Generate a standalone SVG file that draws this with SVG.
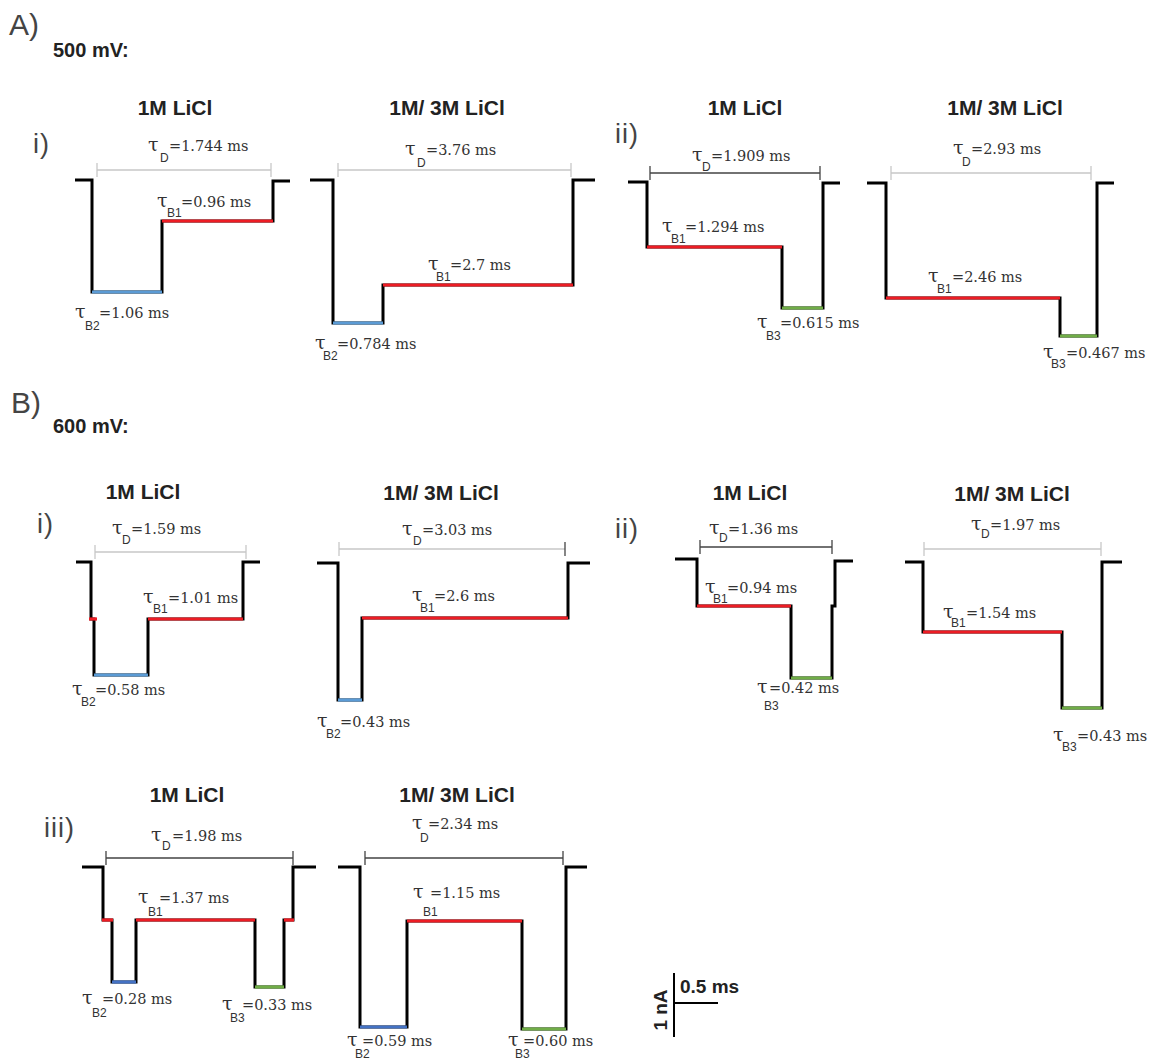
<svg xmlns="http://www.w3.org/2000/svg" width="1154" height="1059" viewBox="0 0 1154 1059">
<style>
.tr{fill:none;stroke:#000;stroke-width:3;stroke-linejoin:miter}
.lv{fill:none;stroke-width:3.2}
.r{stroke:#ed1c24}.b{stroke:#5b9bd5}.bd{stroke:#4472c4}.g{stroke:#70ad47}
.brl{fill:none;stroke:#c8c8c8;stroke-width:1.3}
.brd{fill:none;stroke:#444;stroke-width:1.3}
.lb{font-family:"DejaVu Serif",serif;font-size:14.5px;fill:#333}
.t{font-size:19px}
.sb{font-family:"Liberation Sans",Arial,sans-serif;font-size:12px;fill:#333}
.tt{font-family:"Liberation Sans",Arial,sans-serif;font-weight:bold;font-size:21px;fill:#222;text-anchor:middle}
.hd{font-family:"Liberation Sans",Arial,sans-serif;font-weight:bold;font-size:20px;fill:#222}
.sec{font-family:"Liberation Sans",Arial,sans-serif;font-size:30px;fill:#444}
.rn{font-family:"Liberation Sans",Arial,sans-serif;font-size:27px;fill:#444;letter-spacing:1px}
.sc{font-family:"Liberation Sans",Arial,sans-serif;font-weight:bold;font-size:19px;fill:#222}
</style>
<rect width="1154" height="1059" fill="#fff"/>

<g id="headings">
<text class="sec" x="9" y="35">A)</text>
<text class="hd" x="53" y="57">500 mV:</text>
<text class="sec" x="11" y="413">B)</text>
<text class="hd" x="53" y="433">600 mV:</text>
<text class="rn" x="33" y="153">i)</text>
<text class="rn" x="615" y="143">ii)</text>
<text class="rn" x="37" y="533">i)</text>
<text class="rn" x="615" y="538">ii)</text>
<text class="rn" x="44" y="837">iii)</text>
</g>

<g id="A-i-1M">
<text class="tt" x="175" y="115">1M LiCl</text>
<path class="brl" d="M97,170 H271 M97,163 V177 M271,163 V177"/>
<path class="tr" d="M75,180 H92 V292 H162 V221 H273 V181 H290"/>
<path class="lv b" d="M92,292 H162"/>
<path class="lv r" d="M162,221 H273"/>
<text class="lb" x="148" y="151"><tspan class="t">τ</tspan><tspan class="sb" x="160" y="162">D</tspan><tspan x="169" y="151">=1.744 ms</tspan></text>
<text class="lb" x="157" y="207"><tspan class="t">τ</tspan><tspan class="sb" x="167" y="217">B1</tspan><tspan x="181" y="207">=0.96 ms</tspan></text>
<text class="lb" x="75" y="318"><tspan class="t">τ</tspan><tspan class="sb" x="85" y="330">B2</tspan><tspan x="99" y="318">=1.06 ms</tspan></text>
</g>

<g id="A-i-3M">
<text class="tt" x="447" y="115">1M/ 3M LiCl</text>
<path class="brl" d="M338,170 H571 M338,163 V177 M571,163 V177"/>
<path class="tr" d="M310,180 H333 V323 H383 V285 H573 V180 H595"/>
<path class="lv b" d="M333,323 H383"/>
<path class="lv r" d="M383,285 H573"/>
<text class="lb" x="405" y="155"><tspan class="t">τ</tspan><tspan class="sb" x="417" y="167">D</tspan><tspan x="426" y="155">=3.76 ms</tspan></text>
<text class="lb" x="428" y="270"><tspan class="t">τ</tspan><tspan class="sb" x="436" y="281">B1</tspan><tspan x="450" y="270">=2.7 ms</tspan></text>
<text class="lb" x="315" y="349"><tspan class="t">τ</tspan><tspan class="sb" x="323" y="360">B2</tspan><tspan x="337" y="349">=0.784 ms</tspan></text>
</g>

<g id="A-ii-1M">
<text class="tt" x="745" y="115">1M LiCl</text>
<path class="brd" d="M650,173 H820 M650,166 V180 M820,166 V180"/>
<path class="tr" d="M628,182 H647 V247 H782 V308 H823 V183 H840"/>
<path class="lv r" d="M647,247 H782"/>
<path class="lv g" d="M782,308 H823"/>
<text class="lb" x="692" y="161"><tspan class="t">τ</tspan><tspan class="sb" x="702" y="171">D</tspan><tspan x="711" y="161">=1.909 ms</tspan></text>
<text class="lb" x="662" y="232"><tspan class="t">τ</tspan><tspan class="sb" x="671" y="243">B1</tspan><tspan x="685" y="232">=1.294 ms</tspan></text>
<text class="lb" x="757" y="328"><tspan class="t">τ</tspan><tspan class="sb" x="766" y="340">B3</tspan><tspan x="780" y="328">=0.615 ms</tspan></text>
</g>

<g id="A-ii-3M">
<text class="tt" x="1005" y="115">1M/ 3M LiCl</text>
<path class="brl" d="M891,173 H1091 M891,166 V180 M1091,166 V180"/>
<path class="tr" d="M867,183 H886 V298 H1060 V336 H1097 V183 H1114"/>
<path class="lv r" d="M886,298 H1060"/>
<path class="lv g" d="M1060,336 H1097"/>
<text class="lb" x="953" y="154"><tspan class="t">τ</tspan><tspan class="sb" x="962" y="166">D</tspan><tspan x="971" y="154">=2.93 ms</tspan></text>
<text class="lb" x="928" y="282"><tspan class="t">τ</tspan><tspan class="sb" x="937" y="293">B1</tspan><tspan x="952" y="282">=2.46 ms</tspan></text>
<text class="lb" x="1043" y="358"><tspan class="t">τ</tspan><tspan class="sb" x="1051" y="368">B3</tspan><tspan x="1066" y="358">=0.467 ms</tspan></text>
</g>

<g id="B-i-1M">
<text class="tt" x="143" y="499">1M LiCl</text>
<path class="brl" d="M95,552 H246 M95,545 V559 M246,545 V559"/>
<path class="tr" d="M76,562 H91 V619 H94 V675 H148 V619 H243 V562 H260"/>
<path class="lv r" d="M89,619 H97"/>
<path class="lv b" d="M94,675 H148"/>
<path class="lv r" d="M148,619 H243"/>
<text class="lb" x="112" y="534"><tspan class="t">τ</tspan><tspan class="sb" x="122" y="544">D</tspan><tspan x="131" y="534">=1.59 ms</tspan></text>
<text class="lb" x="143" y="603"><tspan class="t">τ</tspan><tspan class="sb" x="153" y="613">B1</tspan><tspan x="168" y="603">=1.01 ms</tspan></text>
<text class="lb" x="72" y="695"><tspan class="t">τ</tspan><tspan class="sb" x="81" y="706">B2</tspan><tspan x="95" y="695">=0.58 ms</tspan></text>
</g>

<g id="B-i-3M">
<text class="tt" x="441" y="500">1M/ 3M LiCl</text>
<path class="brl" d="M339,549 H565 M339,542 V556"/>
<path class="brd" d="M565,542 V556"/>
<path class="tr" d="M317,563 H338 V700 H362 V618 H568 V563 H590"/>
<path class="lv b" d="M338,700 H362"/>
<path class="lv r" d="M362,618 H568"/>
<text class="lb" x="402" y="535"><tspan class="t">τ</tspan><tspan class="sb" x="413" y="545">D</tspan><tspan x="422" y="535">=3.03 ms</tspan></text>
<text class="lb" x="412" y="601"><tspan class="t">τ</tspan><tspan class="sb" x="420" y="612">B1</tspan><tspan x="434" y="601">=2.6 ms</tspan></text>
<text class="lb" x="317" y="727"><tspan class="t">τ</tspan><tspan class="sb" x="326" y="738">B2</tspan><tspan x="340" y="727">=0.43 ms</tspan></text>
</g>

<g id="B-ii-1M">
<text class="tt" x="750" y="500">1M LiCl</text>
<path class="brd" d="M700,547 H832 M700,540 V554 M832,540 V554"/>
<path class="tr" d="M675,559 H697 V606 H791 V678 H832 V606 H835 V561 H853"/>
<path class="lv r" d="M697,606 H791"/>
<path class="lv g" d="M791,678 H832"/>
<text class="lb" x="709" y="534"><tspan class="t">τ</tspan><tspan class="sb" x="719" y="542">D</tspan><tspan x="728" y="534">=1.36 ms</tspan></text>
<text class="lb" x="705" y="593"><tspan class="t">τ</tspan><tspan class="sb" x="713" y="603">B1</tspan><tspan x="727" y="593">=0.94 ms</tspan></text>
<text class="lb" x="757" y="693"><tspan class="t">τ</tspan><tspan class="sb" x="764" y="710">B3</tspan><tspan x="769" y="693">=0.42 ms</tspan></text>
</g>

<g id="B-ii-3M">
<text class="tt" x="1012" y="501">1M/ 3M LiCl</text>
<path class="brl" d="M924,549 H1101 M924,542 V556 M1101,542 V556"/>
<path class="tr" d="M905,562 H923 V632 H1062 V708 H1102 V562 H1122"/>
<path class="lv r" d="M923,632 H1062"/>
<path class="lv g" d="M1062,708 H1102"/>
<text class="lb" x="971" y="530"><tspan class="t">τ</tspan><tspan class="sb" x="981" y="538">D</tspan><tspan x="990" y="530">=1.97 ms</tspan></text>
<text class="lb" x="943" y="618"><tspan class="t">τ</tspan><tspan class="sb" x="951" y="627">B1</tspan><tspan x="966" y="618">=1.54 ms</tspan></text>
<text class="lb" x="1053" y="741"><tspan class="t">τ</tspan><tspan class="sb" x="1062" y="751">B3</tspan><tspan x="1077" y="741">=0.43 ms</tspan></text>
</g>

<g id="B-iii-1M">
<text class="tt" x="187" y="802">1M LiCl</text>
<path class="brd" d="M106,858 H293 M106,851 V865 M293,851 V865"/>
<path class="tr" d="M82,867 H103 V920 H112 V982 H136 V920 H255 V987 H284 V920 H293 V867 H316"/>
<path class="lv r" d="M102,920 H113"/>
<path class="lv bd" d="M112,982 H136"/>
<path class="lv r" d="M136,920 H255"/>
<path class="lv g" d="M255,987 H284"/>
<path class="lv r" d="M284,920 H294"/>
<text class="lb" x="151" y="841"><tspan class="t">τ</tspan><tspan class="sb" x="162" y="850">D</tspan><tspan x="172" y="841">=1.98 ms</tspan></text>
<text class="lb" x="138" y="903"><tspan class="t">τ</tspan><tspan class="sb" x="148" y="916">B1</tspan><tspan x="159" y="903">=1.37 ms</tspan></text>
<text class="lb" x="82" y="1004"><tspan class="t">τ</tspan><tspan class="sb" x="92" y="1017">B2</tspan><tspan x="102" y="1004">=0.28 ms</tspan></text>
<text class="lb" x="222" y="1010"><tspan class="t">τ</tspan><tspan class="sb" x="230" y="1022">B3</tspan><tspan x="242" y="1010">=0.33 ms</tspan></text>
</g>

<g id="B-iii-3M">
<text class="tt" x="457" y="802">1M/ 3M LiCl</text>
<path class="brd" d="M365,858 H563 M365,851 V865 M563,851 V865"/>
<path class="tr" d="M338,867 H360 V1027 H407 V921 H522 V1029 H566 V867 H587"/>
<path class="lv bd" d="M360,1027 H407"/>
<path class="lv r" d="M407,921 H522"/>
<path class="lv g" d="M522,1029 H566"/>
<text class="lb" x="412" y="829"><tspan class="t">τ</tspan><tspan class="sb" x="420" y="842">D</tspan><tspan x="428" y="829">=2.34 ms</tspan></text>
<text class="lb" x="413" y="898"><tspan class="t">τ</tspan><tspan class="sb" x="423" y="916">B1</tspan><tspan x="430" y="898">=1.15 ms</tspan></text>
<text class="lb" x="347" y="1046"><tspan class="t">τ</tspan><tspan class="sb" x="355" y="1058">B2</tspan><tspan x="362" y="1046">=0.59 ms</tspan></text>
<text class="lb" x="508" y="1046"><tspan class="t">τ</tspan><tspan class="sb" x="515" y="1058">B3</tspan><tspan x="523" y="1046">=0.60 ms</tspan></text>
</g>

<g id="scale-bar">
<path fill="none" stroke="#000" stroke-width="2" d="M674,973 V1037 M674,1003 H718"/>
<text class="sc" x="680" y="993">0.5 ms</text>
<text class="sc" transform="translate(667,1010) rotate(-90)" text-anchor="middle">1 nA</text>
</g>
</svg>
